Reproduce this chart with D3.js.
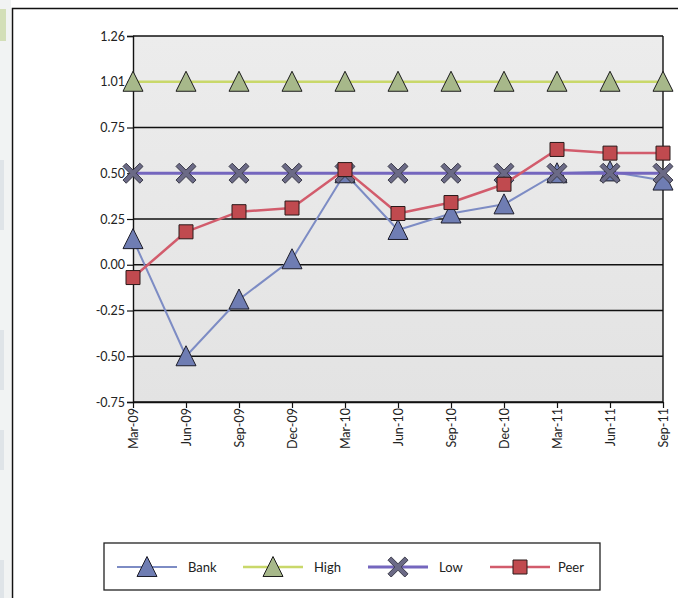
<!DOCTYPE html>
<html>
<head>
<meta charset="utf-8">
<script src="https://cdn.jsdelivr.net/npm/d3@7"></script>
<style>
  html, body { margin: 0; padding: 0; background: #ffffff; }
  svg { display: block; }
</style>
</head>
<body>
<svg id="chart" width="678" height="598"></svg>
<script>
// Quarter labels along the x axis
const quarters = ["Mar-09", "Jun-09", "Sep-09", "Dec-09", "Mar-10", "Jun-10",
                  "Sep-10", "Dec-10", "Mar-11", "Jun-11", "Sep-11"];

// Series values per quarter
const bank = [0.14, -0.50, -0.19, 0.03, 0.50, 0.19, 0.28, 0.33, 0.50, 0.51, 0.46];
const high = [1.01, 1.01, 1.01, 1.01, 1.01, 1.01, 1.01, 1.01, 1.01, 1.01, 1.01];
const low  = [0.50, 0.50, 0.50, 0.50, 0.50, 0.50, 0.50, 0.50, 0.50, 0.50, 0.50];
const peer = [-0.07, 0.18, 0.29, 0.31, 0.52, 0.28, 0.34, 0.44, 0.63, 0.61, 0.61];

// Value axis ticks and their labels
const yTicks  = [-0.75, -0.50, -0.25, 0.00, 0.25, 0.50, 0.75, 1.01, 1.26];
const yLabels = ["-0.75", "-0.50", "-0.25", "0.00", "0.25", "0.50", "0.75", "1.01", "1.26"];

const seriesNames = ["Bank", "High", "Low", "Peer"];

const svg = d3.select("#chart");
const plot = { left: 133, right: 663, top: 36, bottom: 402 };
const FONT = "Lato, 'Open Sans', sans-serif";

// Evenly spaced ticks: piecewise scale keeps each labelled value on its gridline
const x = d3.scalePoint().domain(quarters).range([plot.left, plot.right]).padding(0);
const y = d3.scaleLinear()
  .domain(yTicks)
  .range(yTicks.map((d, i) => plot.bottom - i * (plot.bottom - plot.top) / (yTicks.length - 1)));

// Page edge strip and outer frame
const strip = svg.append("g");
strip.append("rect").attr("x", 0).attr("y", 0).attr("width", 11).attr("height", 598).attr("fill", "#f1f3f3");
strip.append("rect").attr("x", 0).attr("y", 9).attr("width", 6).attr("height", 32).attr("fill", "#d3dfb8");
[[160, 230], [330, 390], [430, 470], [560, 598]].forEach(([a, b]) =>
  strip.append("rect").attr("x", 0).attr("y", a).attr("width", 4).attr("height", b - a).attr("fill", "#dfe4e8"));

svg.append("path")
  .attr("d", "M12.5,598 V8.5 H678")
  .attr("fill", "none").attr("stroke", "#111").attr("stroke-width", 1.5);

// Plot background
const bg = svg.append("defs").append("linearGradient").attr("id", "plotbg")
  .attr("x1", 0).attr("y1", 0).attr("x2", 0).attr("y2", 1);
bg.append("stop").attr("offset", "0%").attr("stop-color", "#ececec");
bg.append("stop").attr("offset", "100%").attr("stop-color", "#e3e3e3");
svg.append("rect")
  .attr("x", plot.left).attr("y", plot.top)
  .attr("width", plot.right - plot.left).attr("height", plot.bottom - plot.top)
  .attr("fill", "url(#plotbg)");

// Horizontal gridlines
svg.append("g").selectAll("line").data(yTicks).join("line")
  .attr("x1", plot.left).attr("x2", plot.right)
  .attr("y1", d => y(d)).attr("y2", d => y(d))
  .attr("stroke", "#111").attr("stroke-width", 1.4);

// Right border
svg.append("line")
  .attr("x1", plot.right).attr("x2", plot.right)
  .attr("y1", plot.top).attr("y2", plot.bottom)
  .attr("stroke", "#111").attr("stroke-width", 1.4);

// Y axis
const yAxis = d3.axisLeft(y).tickValues(yTicks).tickSize(6).tickPadding(2)
  .tickFormat((d, i) => yLabels[i]);
const gy = svg.append("g").attr("transform", `translate(${plot.left},0)`).call(yAxis);
gy.select(".domain").attr("stroke", "#111").attr("stroke-width", 1.4);
gy.selectAll(".tick line").attr("stroke", "#111").attr("stroke-width", 1.2);
gy.selectAll(".tick text").attr("font-family", FONT).attr("font-size", 12.5).attr("fill", "#222");

// X axis
const xAxis = d3.axisBottom(x).tickSize(6).tickSizeOuter(0).tickPadding(4);
const gx = svg.append("g").attr("transform", `translate(0,${plot.bottom})`).call(xAxis);
gx.select(".domain").attr("stroke", "#111").attr("stroke-width", 1.4);
gx.selectAll(".tick line").attr("stroke", "#111").attr("stroke-width", 1.2);
gx.selectAll(".tick text")
  .attr("font-family", FONT).attr("font-size", 12.5).attr("fill", "#222")
  .attr("text-anchor", "end").attr("dy", "0.35em")
  .attr("transform", "translate(0,6) rotate(-90)")
  .attr("x", 0).attr("y", 0);

// Marker shapes
const triPath = "M0,-10.5 L10,9.5 L-10,9.5 Z";
const sq = 7;
const sqPath = `M${-sq},${-sq} H${sq} V${sq} H${-sq} Z`;
const xPath = (() => {
  const a = 10, w = 3.2;
  return `M${-a},${-a + w} L${-a + w},${-a} L0,${-w} L${a - w},${-a} L${a},${-a + w} L${w},0 ` +
         `L${a},${a - w} L${a - w},${a} L0,${w} L${-a + w},${a} L${-a},${a - w} L${-w},0 Z`;
})();

const series = [
  { name: "Bank", values: bank, line: "#7d8cc4", lw: 2,   marker: triPath, fill: "#6f7db3", stroke: "#1d1d2a" },
  { name: "High", values: high, line: "#c9d86a", lw: 2.5, marker: triPath, fill: "#a7b88a", stroke: "#1d1d1d" },
  { name: "Low",  values: low,  line: "#7466be", lw: 3,   marker: xPath,   fill: "#6b6a86", stroke: "#3a3a48" },
  { name: "Peer", values: peer, line: "#d25c6c", lw: 2.5, marker: sqPath,  fill: "#c04a4f", stroke: "#2a1a1a" }
];

const lineGen = d3.line().x((d, i) => x(quarters[i])).y(d => y(d));

series.forEach(s => {
  const g = svg.append("g");
  g.append("path").datum(s.values)
    .attr("d", lineGen).attr("fill", "none")
    .attr("stroke", s.line).attr("stroke-width", s.lw)
    .attr("stroke-linejoin", "round");
  g.selectAll("path.mk").data(s.values).join("path").attr("class", "mk")
    .attr("d", s.marker)
    .attr("transform", (d, i) => `translate(${x(quarters[i])},${y(d)})`)
    .attr("fill", s.fill).attr("stroke", s.stroke).attr("stroke-width", 1);
});

// Legend
const legend = svg.append("g");
legend.append("rect")
  .attr("x", 104).attr("y", 543).attr("width", 496).attr("height", 47)
  .attr("fill", "#fff").attr("stroke", "#222").attr("stroke-width", 1.3);
const legendX = d3.scaleOrdinal().domain(seriesNames).range([117, 243, 368, 490]);
const textX = d3.scaleOrdinal().domain(seriesNames).range([188, 314, 439, 558]);
series.forEach(s => {
  const x0 = legendX(s.name), ly = 567;
  legend.append("line").attr("x1", x0).attr("x2", x0 + 60).attr("y1", ly).attr("y2", ly)
    .attr("stroke", s.line).attr("stroke-width", s.lw);
  legend.append("path").attr("d", s.marker)
    .attr("transform", `translate(${x0 + 30},${ly})`)
    .attr("fill", s.fill).attr("stroke", s.stroke).attr("stroke-width", 1);
  legend.append("text").attr("x", textX(s.name)).attr("y", ly).attr("dy", "0.35em")
    .attr("font-family", FONT).attr("font-size", 13).attr("fill", "#222")
    .text(s.name);
});
</script>
</body>
</html>
